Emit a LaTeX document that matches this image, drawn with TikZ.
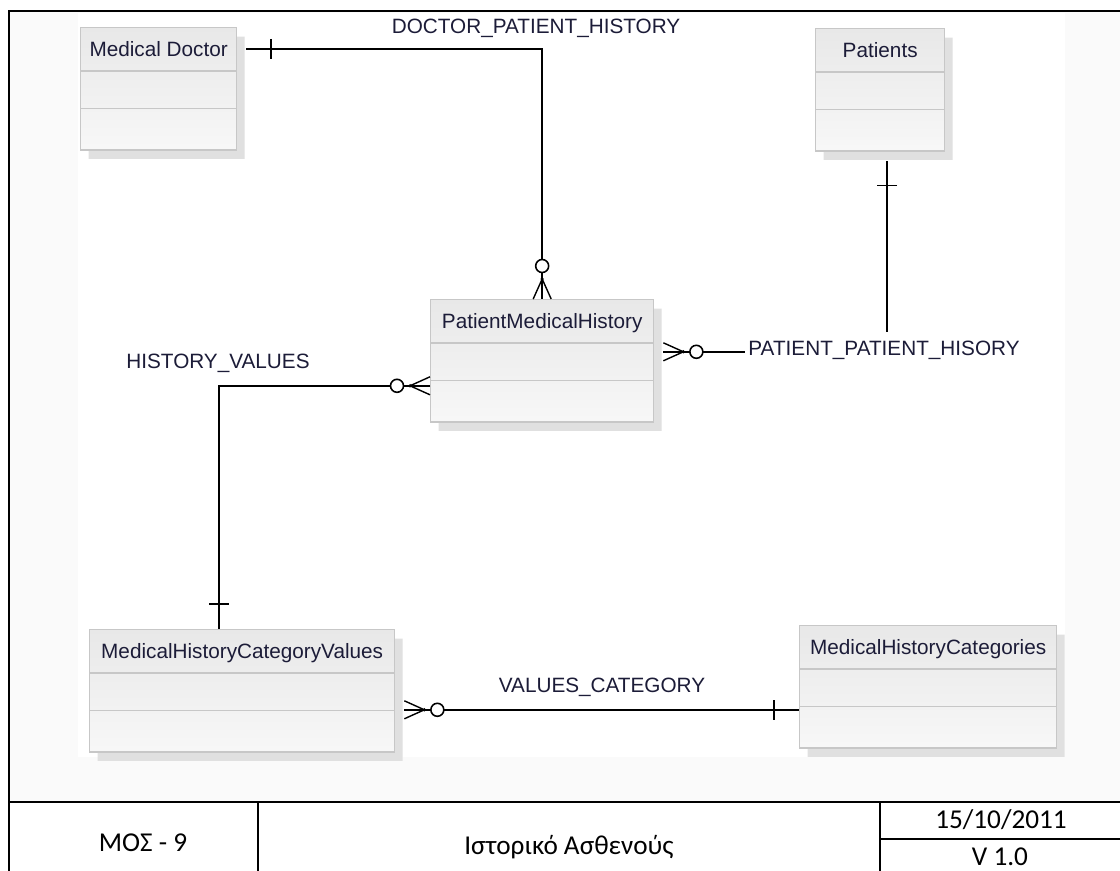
\documentclass[tikz,border=0pt]{standalone}
\usepackage{fontspec}
\setmainfont{Carlito}
\newfontfamily\erfont{Liberation Sans}
\usetikzlibrary{shapes.multipart,shadows,calc}

\definecolor{erink}{RGB}{28,28,56}
% empty compartments of an entity box
\newcommand{\hdr}{\rule[-0.28cm]{0pt}{0.84cm}}
\newcommand{\slots}{\nodepart{two}\rule{0pt}{0.72cm}\nodepart{three}\rule{0pt}{0.8cm}}

\begin{document}
\begin{tikzpicture}[
  x=0.02cm, y=-0.02cm,
  entity/.style={rectangle split, rectangle split parts=3, anchor=north west,
                 draw=black!22, line width=0.8pt, inner xsep=2pt, inner ysep=0pt,
                 top color=black!9, bottom color=black!3,
                 drop shadow={shadow xshift=0.16cm, shadow yshift=-0.18cm,
                              fill=black!12, opacity=1},
                 font=\erfont\fontsize{11.8}{14}\selectfont, text=erink},
  rel/.style={font=\erfont\fontsize{11.8}{14}\selectfont, text=erink, inner sep=1pt},
  link/.style={line width=1.1pt},
  frame/.style={line width=1.2pt},
  cell/.style={font=\fontsize{15.5}{18}\selectfont},
  one/.pic={\draw[line width=1pt] (25,-10) -- (25,10);},
  zeromany/.pic={
    \draw[line width=0.8pt] (0,-9) -- (20,0) -- (0,9);
    \fill (20,0) circle (1.8);
    \draw[line width=0.9pt, fill=white] (33,0) circle (6.5);}
]
  \useasboundingbox (0,0) rectangle (1120,871);
  \fill[black!2] (9,11) rectangle (1120,802);
  \fill[white] (78,13) rectangle (1065,757);

  % entities
  \node[entity, minimum width=3.12cm] (md)   at (80,27)  {\hdr Medical Doctor\slots};
  \node[entity, minimum width=2.58cm] (pat)  at (815,28) {\hdr Patients\slots};
  \node[entity, minimum width=4.46cm] (pmh)  at (430,299) {\hdr PatientMedicalHistory\slots};
  \node[entity, minimum width=6.1cm]  (mhcv) at (89,629) {\hdr MedicalHistoryCategoryValues\slots};
  \node[entity, minimum width=5.14cm] (mhc)  at (799,625) {\hdr MedicalHistoryCategories\slots};

  % relationship ends
  \coordinate (dph-a) at ($(md.north east)+(9,22)$);
  \coordinate (pph-a) at ($(pmh.east)+(9,-9)$);
  \coordinate (pph-b) at ($(pat.south)+(7,9)$);
  \coordinate (hv-a)  at ($(pmh.west)+(0,25)$);
  \coordinate (hv-b)  at ($(mhcv.north)+(-23,0)$);
  \coordinate (vc-a)  at ($(mhcv.east)+(9,19)$);
  \coordinate (vc-b)  at ($(mhc.west)+(0,23)$);

  \draw[link] (dph-a) -| (pmh.north);
  \draw[link] (pph-a) -| (pph-b);
  \draw[link] (hv-a) -| (hv-b);
  \draw[link] (vc-a) -- (vc-b);

  \pic at (dph-a) {one};
  \pic[rotate=90] at (pmh.north) {zeromany};
  \pic at (pph-a) {zeromany};
  \pic[rotate=-90] at (pph-b) {one};
  \pic[rotate=180] at (hv-a) {zeromany};
  \pic[rotate=90] at (hv-b) {one};
  \pic at (vc-a) {zeromany};
  \pic[rotate=180] at (vc-b) {one};

  \node[rel] (dph) at (536,28) {DOCTOR\_PATIENT\_HISTORY};
  \node[rel, fill=white, inner xsep=2pt, inner ysep=5pt] (pph) at (884,350) {PATIENT\_PATIENT\_HISORY};
  \node[rel] (hv) at (218,363) {HISTORY\_VALUES};
  \node[rel] (vc) at (602,687) {VALUES\_CATEGORY};

  % title block
  \draw[frame] (9,871) -- (9,11) -- (1120,11);
  \draw[frame] (9,802) -- (1120,802);
  \draw[frame] (258,802) -- (258,871);
  \draw[frame] (880,802) -- (880,871);
  \draw[frame] (880,839) -- (1120,839);
  \node[cell] (code) at (143,843) {ΜΟΣ - 9};
  \node[cell] (title) at (569,847) {Ιστορικό Ασθενούς};
  \node[cell] (date) at (1001,820) {15/10/2011};
  \node[cell] (ver) at (1000,857) {V 1.0};
\end{tikzpicture}
\end{document}
